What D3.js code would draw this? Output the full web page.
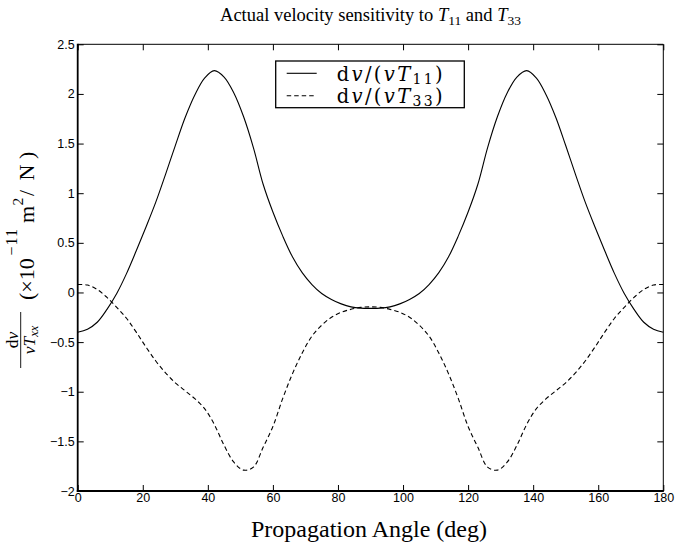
<!DOCTYPE html>
<html><head><meta charset="utf-8">
<script src="https://cdn.jsdelivr.net/npm/d3@7"></script>
<style>body{margin:0;background:#fff} svg{display:block}</style>
</head><body>
<svg id="chart" width="675" height="543"></svg>
<script>
// ---------------- data ----------------
const angles = [0,3,6,9,12,15,18,21,24,27,30,33,36,39,42,45,48,51,54,57,60,63,66,69,72,75,78,81,84,87,90,
  93,96,99,102,105,108,111,114,117,120,123,126,129,132,135,138,141,144,147,150,153,156,159,162,165,168,171,174,177,180];
const sensT11 = [-0.40,-0.37,-0.30,-0.17,-0.01,0.19,0.42,0.66,0.91,1.19,1.48,1.76,1.99,2.16,2.235,2.17,2.01,1.77,1.46,1.09,0.81,0.57,0.36,0.20,0.08,-0.01,-0.07,-0.115,-0.145,-0.158,-0.16,
  -0.158,-0.145,-0.115,-0.07,-0.01,0.08,0.20,0.36,0.57,0.81,1.09,1.46,1.77,2.01,2.17,2.235,2.16,1.99,1.76,1.48,1.19,0.91,0.66,0.42,0.19,-0.01,-0.17,-0.30,-0.37,-0.40];
const sensT33 = [0.08,0.075,0.03,-0.05,-0.15,-0.26,-0.40,-0.55,-0.69,-0.81,-0.91,-0.99,-1.07,-1.17,-1.33,-1.54,-1.71,-1.79,-1.76,-1.56,-1.35,-1.07,-0.82,-0.61,-0.44,-0.33,-0.25,-0.20,-0.17,-0.15,-0.145,
  -0.15,-0.17,-0.20,-0.25,-0.33,-0.44,-0.61,-0.82,-1.07,-1.35,-1.56,-1.76,-1.79,-1.71,-1.54,-1.33,-1.17,-1.07,-0.99,-0.91,-0.81,-0.69,-0.55,-0.40,-0.26,-0.15,-0.05,0.03,0.075,0.08];
const xTicks = [0,20,40,60,80,100,120,140,160,180];
const xTickLabels = ["0","20","40","60","80","100","120","140","160","180"];
const yTicks = [-2,-1.5,-1,-0.5,0,0.5,1,1.5,2,2.5];
const yTickLabels = ["\u22122","\u22121.5","\u22121","\u22120.5","0","0.5","1","1.5","2","2.5"];
const seriesNames = ["T11","T33"];

// ---------------- layout ----------------
const svg = d3.select("#chart");
const L = 77.7, R = 663.3, T = 44.3, B = 491;
const x = d3.scaleLinear().domain([0,180]).range([L,R]);
const y = d3.scaleLinear().domain([-2,2.5]).range([B,T]);
const sans = "'Liberation Sans', Arial, Helvetica, sans-serif";
const serif = "'Liberation Serif', 'Times New Roman', serif";
const mathSerif = "'DejaVu Serif', 'Liberation Serif', serif";

// curves
const line = d3.line().x((d,i)=>x(angles[i])).y(d=>y(d)).curve(d3.curveCatmullRom.alpha(0.5));
svg.append("path").attr("d", line(sensT11)).attr("fill","none").attr("stroke","#000").attr("stroke-width",1.1);
svg.append("path").attr("d", line(sensT33)).attr("fill","none").attr("stroke","#000").attr("stroke-width",1.1)
  .attr("stroke-dasharray","4.5,3");

// axes
const fmtX = d => xTickLabels[xTicks.indexOf(d)];
const fmtY = d => yTickLabels[yTicks.indexOf(d)];
function styleAxis(g){
  g.select(".domain").remove();
  g.selectAll(".tick line").attr("stroke","#000").attr("stroke-width",1);
  g.selectAll(".tick text").attr("font-family",sans).attr("font-size",12.5).attr("fill","#000");
}
const gB = svg.append("g").attr("transform",`translate(0,${B})`)
  .call(d3.axisBottom(x).tickValues(xTicks).tickFormat(fmtX).tickSizeInner(-6).tickSizeOuter(0).tickPadding(2));
styleAxis(gB);
const gT = svg.append("g").attr("transform",`translate(0,${T})`)
  .call(d3.axisTop(x).tickValues(xTicks).tickFormat("").tickSizeInner(-6).tickSizeOuter(0));
styleAxis(gT);
const gL = svg.append("g").attr("transform",`translate(${L},0)`)
  .call(d3.axisLeft(y).tickValues(yTicks).tickFormat(fmtY).tickSizeInner(-6).tickSizeOuter(0).tickPadding(3));
styleAxis(gL);
const gR = svg.append("g").attr("transform",`translate(${R},0)`)
  .call(d3.axisRight(y).tickValues(yTicks).tickFormat("").tickSizeInner(-6).tickSizeOuter(0));
styleAxis(gR);
// frame
svg.append("line").attr("x1",L).attr("x2",R).attr("y1",T).attr("y2",T).attr("stroke","#000").attr("stroke-width",1);
svg.append("line").attr("x1",R).attr("x2",R).attr("y1",T).attr("y2",B).attr("stroke","#000").attr("stroke-width",1);
svg.append("line").attr("x1",L).attr("x2",L).attr("y1",T-0.5).attr("y2",B+0.9).attr("stroke","#000").attr("stroke-width",1.8);
svg.append("line").attr("x1",L-0.9).attr("x2",R+0.5).attr("y1",B).attr("y2",B).attr("stroke","#000").attr("stroke-width",1.8);

// title
const title = svg.append("text").attr("x",(L+R)/2).attr("y",21).attr("text-anchor","middle")
  .attr("font-family",serif).attr("font-size",18.5).attr("fill","#000");
title.append("tspan").text("Actual velocity sensitivity to ");
title.append("tspan").attr("font-style","italic").text("T");
title.append("tspan").attr("font-size",13.5).attr("dy",4).text("11");
title.append("tspan").attr("dy",-4).text(" and ");
title.append("tspan").attr("font-style","italic").text("T");
title.append("tspan").attr("font-size",13.5).attr("dy",4).text("33");

// x label
svg.append("text").attr("x",(L+R)/2 - 1.5).attr("y",537).attr("text-anchor","middle")
  .attr("font-family",serif).attr("font-size",24).attr("textLength",236).attr("lengthAdjust","spacing")
  .attr("fill","#000").text("Propagation Angle (deg)");

// y label (rotated)
const yl = svg.append("g").attr("transform","translate(33.5,368) rotate(-90)")
  .attr("font-family",serif).attr("fill","#000");
const num = yl.append("text").attr("x",28).attr("y",-15.5).attr("text-anchor","middle").attr("font-size",17.5);
num.append("tspan").text("d");
num.append("tspan").attr("font-style","italic").text("v");
yl.append("line").attr("x1",0).attr("x2",56).attr("y1",-12.8).attr("y2",-12.8).attr("stroke","#000").attr("stroke-width",0.9);
const den = yl.append("text").attr("x",28).attr("y",1).attr("text-anchor","middle").attr("font-size",17.5).attr("font-style","italic");
den.append("tspan").text("vT");
den.append("tspan").attr("font-size",12.5).attr("dy",3).text("xx");
yl.append("text").attr("x",68).attr("y",0).attr("font-size",22).text("(\u00d710");
yl.append("text").attr("x",112.5).attr("y",-16.8).attr("font-size",16).attr("letter-spacing",1).text("\u221211");
yl.append("text").attr("x",145).attr("y",0).attr("font-size",22).text("m");
yl.append("text").attr("x",162.5).attr("y",-11).attr("font-size",15.5).text("2");
yl.append("text").attr("x",172).attr("y",0).attr("font-size",22).text("/");
yl.append("text").attr("x",187.5).attr("y",0).attr("font-size",22).text("N");
yl.append("text").attr("x",209).attr("y",0).attr("font-size",22).text(")");

// legend
const lg = svg.append("g");
lg.append("rect").attr("x",275.7).attr("y",61).attr("width",188.6).attr("height",46.7)
  .attr("fill","#fff").attr("stroke","#000").attr("stroke-width",1.3);
const rowsY = [73.3, 95.7];
const dashes = [null, "4.5,3"];
const subs = ["11","33"];
seriesNames.forEach((s,i)=>{
  const ln = lg.append("line").attr("x1",286.7).attr("x2",316.7).attr("y1",rowsY[i]).attr("y2",rowsY[i])
    .attr("stroke","#000").attr("stroke-width",1.1);
  if (dashes[i]) ln.attr("stroke-dasharray",dashes[i]);
  const t = lg.append("text").attr("x",336.7).attr("y",rowsY[i]+7.5).attr("font-family",mathSerif).attr("font-size",19.5)
    .attr("textLength",106).attr("lengthAdjust","spacing").attr("fill","#000");
  t.append("tspan").text("d");
  t.append("tspan").attr("font-style","italic").text("v");
  t.append("tspan").text("/(");
  t.append("tspan").attr("font-style","italic").text("vT");
  t.append("tspan").attr("font-size",14).attr("dy",3).text(subs[i]);
  t.append("tspan").attr("dy",-3).text(")");
});
</script>
</body></html>
